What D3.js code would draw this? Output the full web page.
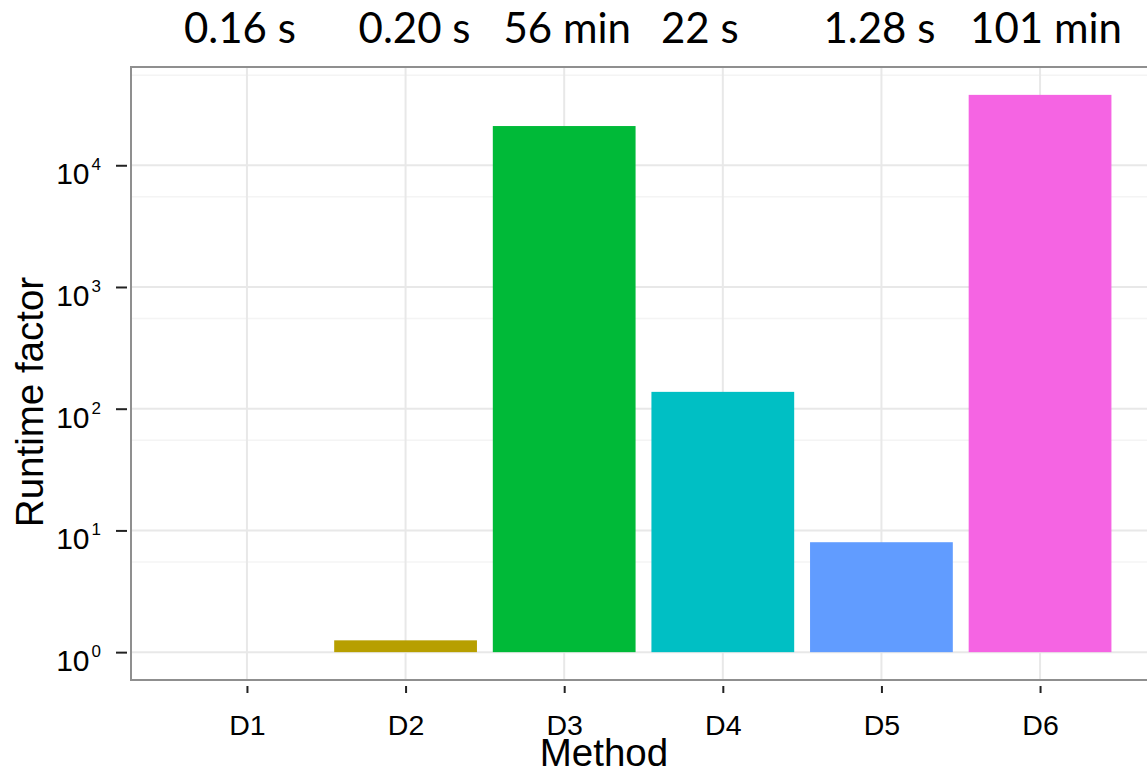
<!DOCTYPE html>
<html>
<head>
<meta charset="utf-8">
<script src="https://cdn.jsdelivr.net/npm/d3@7/dist/d3.min.js"></script>
<style>
  html, body { margin: 0; padding: 0; background: #fff; }
  svg { display: block; }
</style>
</head>
<body>
<svg id="chart" width="1147" height="772"></svg>
<script>
// Methods, their runtime factor relative to D1, and the absolute runtime shown above each bar
const methods = ["D1", "D2", "D3", "D4", "D5", "D6"];
const factors = [1, 1.25, 21000, 137.5, 8, 37875];
const runtimeLabels = ["0.16 s", "0.20 s", "56 min", "22 s", "1.28 s", "101 min"];
const barColors = ["#F8766D", "#B79F00", "#00BA38", "#00BFC4", "#619CFF", "#F564E3"];
const yTickPowers = [0, 1, 2, 3, 4];
const yMinorBreaks = [5.5, 55, 550, 5500, 55000];

// layout
const panel = { left: 131, right: 1156, top: 67, bottom: 680 };
const runtimeNudge = [-7, 9, 3, -23, -2, 6];

const svg = d3.select("#chart");

// x: discrete positions with ggplot-like outer expansion
const x = d3.scalePoint()
  .domain(methods)
  .range([panel.left, panel.right])
  .padding(0.731);
const barWidth = x.step() * 0.9;

// y: log10 scale, expanded 5% of the data range in log space
const logMax = Math.log10(d3.max(factors));
const logMin = Math.log10(d3.min(factors));
const pad = (logMax - logMin) * 0.05;
const y = d3.scaleLog()
  .domain([Math.pow(10, logMin - pad), Math.pow(10, logMax + pad)])
  .range([panel.bottom, panel.top]);

const grid = svg.append("g");

// minor horizontal grid
grid.selectAll("line.minor")
  .data(yMinorBreaks.filter(v => y(v) >= panel.top && y(v) <= panel.bottom))
  .join("line")
  .attr("x1", panel.left).attr("x2", panel.right)
  .attr("y1", d => y(d)).attr("y2", d => y(d))
  .attr("stroke", "#f4f4f4").attr("stroke-width", 1.5);

// major horizontal grid
grid.selectAll("line.major")
  .data(yTickPowers)
  .join("line")
  .attr("x1", panel.left).attr("x2", panel.right)
  .attr("y1", d => y(Math.pow(10, d))).attr("y2", d => y(Math.pow(10, d)))
  .attr("stroke", "#e8e8e8").attr("stroke-width", 2);

// vertical grid at each method
grid.selectAll("line.vert")
  .data(methods)
  .join("line")
  .attr("x1", d => x(d)).attr("x2", d => x(d))
  .attr("y1", panel.top).attr("y2", panel.bottom)
  .attr("stroke", "#e8e8e8").attr("stroke-width", 2);

// bars rising from 10^0
svg.append("g").selectAll("rect")
  .data(methods)
  .join("rect")
  .attr("x", d => x(d) - barWidth / 2)
  .attr("width", barWidth)
  .attr("y", (d, i) => y(factors[i]))
  .attr("height", (d, i) => y(1) - y(factors[i]))
  .attr("fill", (d, i) => barColors[i]);

// panel border
svg.append("rect")
  .attr("x", panel.left).attr("y", panel.top)
  .attr("width", panel.right - panel.left)
  .attr("height", panel.bottom - panel.top)
  .attr("fill", "none")
  .attr("stroke", "#8f8f8f").attr("stroke-width", 2);

// y axis ticks
const yAxis = d3.axisLeft(y)
  .tickValues(yTickPowers.map(p => Math.pow(10, p)))
  .tickSize(11)
  .tickFormat("");
const yAxisG = svg.append("g")
  .attr("transform", `translate(${panel.left - 4},0)`)
  .call(yAxis);
yAxisG.select(".domain").remove();
yAxisG.selectAll(".tick line").attr("stroke", "#222").attr("stroke-width", 2);

// y tick labels as powers of ten
const yLabels = svg.append("g")
  .attr("font-family", "'Liberation Sans', Arial, sans-serif")
  .attr("fill", "#000");
yTickPowers.forEach(p => {
  const t = yLabels.append("text")
    .attr("x", 101)
    .attr("y", y(Math.pow(10, p)) + 19)
    .attr("text-anchor", "end")
    .attr("font-size", 30);
  t.append("tspan").text("10");
  t.append("tspan")
    .attr("dx", 2)
    .attr("dy", -14)
    .attr("font-size", 17)
    .text(String(p));
});

// x axis ticks and labels
const xAxis = d3.axisBottom(x).tickSize(7).tickPadding(22);
const xAxisG = svg.append("g")
  .attr("transform", `translate(0,${panel.bottom + 6})`)
  .call(xAxis);
xAxisG.select(".domain").remove();
xAxisG.selectAll(".tick line").attr("stroke", "#222").attr("stroke-width", 2);
xAxisG.selectAll(".tick text")
  .attr("font-family", "'Liberation Sans', Arial, sans-serif")
  .attr("font-size", 28.5)
  .attr("fill", "#000");

// axis titles
svg.append("text")
  .attr("x", 604).attr("y", 766)
  .attr("text-anchor", "middle")
  .attr("font-family", "'Liberation Sans', Arial, sans-serif")
  .attr("font-size", 38.5)
  .text("Method");

svg.append("text")
  .attr("transform", "translate(43,402) rotate(-90)")
  .attr("text-anchor", "middle")
  .attr("font-family", "'Liberation Sans', Arial, sans-serif")
  .attr("font-size", 38.5)
  .text("Runtime factor");

// absolute runtimes above the panel
svg.append("g").selectAll("text")
  .data(methods)
  .join("text")
  .attr("x", (d, i) => x(d) + runtimeNudge[i])
  .attr("y", 43)
  .attr("text-anchor", "middle")
  .attr("font-family", "Lato, 'Open Sans', sans-serif")
  .attr("font-size", 42)
  .attr("fill", "#000")
  .text((d, i) => runtimeLabels[i]);
</script>
</body>
</html>
